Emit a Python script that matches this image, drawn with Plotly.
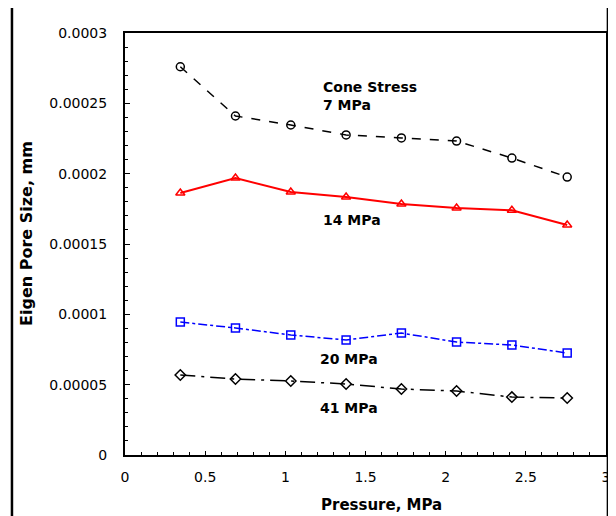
import plotly.graph_objects as go

pressure = [0.345, 0.689, 1.034, 1.379, 1.724, 2.068, 2.413, 2.758]
size_7 = [0.000276, 0.000241, 0.0002346, 0.0002275, 0.0002254, 0.0002232, 0.0002111, 0.0001976]
size_14 = [0.0001863, 0.0001969, 0.000187, 0.0001834, 0.0001784, 0.0001756, 0.000174, 0.0001635]
size_20 = [0.0000945, 0.0000903, 0.0000853, 0.0000818, 0.0000867, 0.0000803, 0.0000782, 0.0000725]
size_41 = [0.0000569, 0.000054, 0.0000526, 0.0000505, 0.0000469, 0.0000455, 0.0000412, 0.0000405]

x_ticks = [0, 0.5, 1, 1.5, 2, 2.5, 3]
x_ticktext = ["0", "0.5", "1", "1.5", "2", "2.5", "3"]
y_ticks = [0, 0.00005, 0.0001, 0.00015, 0.0002, 0.00025, 0.0003]
y_ticktext = ["0", "0.00005", "0.0001", "0.00015", "0.0002", "0.00025", "0.0003"]

FONT = "DejaVu Sans, sans-serif"

fig = go.Figure()

def add(y, color, dash, symbol, width=1.5):
    fig.add_trace(go.Scatter(
        x=pressure, y=y, mode="lines+markers",
        line=dict(color=color, dash=dash, width=width),
        marker=dict(symbol=symbol, size=8, color=color,
                    line=dict(color=color, width=1.5)),
        showlegend=False))

add(size_7, "black", "dash", "circle-open")
add(size_14, "red", "solid", "triangle-up-open", 2)
add(size_20, "blue", "dashdot", "square-open")
add(size_41, "black", "longdashdot", "diamond-open")

ann_font = dict(family=FONT, size=14, color="black")
fig.add_annotation(x=1.224, y=0.0002552, text="<b>Cone Stress<br>7 MPa</b>", showarrow=False,
                   xanchor="left", yanchor="middle", align="left", font=ann_font)
fig.add_annotation(x=1.224, y=0.000167, text="<b>14 MPa</b>", showarrow=False,
                   xanchor="left", yanchor="middle", font=ann_font)
fig.add_annotation(x=1.206, y=0.0000682, text="<b>20 MPa</b>", showarrow=False,
                   xanchor="left", yanchor="middle", font=ann_font)
fig.add_annotation(x=1.206, y=0.0000334, text="<b>41 MPa</b>", showarrow=False,
                   xanchor="left", yanchor="middle", font=ann_font)

# y axis title
fig.add_annotation(xref="paper", yref="paper", x=-0.206, y=0.526,
                   xanchor="center", yanchor="middle",
                   text="<b>Eigen Pore Size, mm</b>", textangle=-90, showarrow=False,
                   font=dict(family=FONT, size=16, color="black"))
# x axis title
fig.add_annotation(xref="paper", yref="paper", x=0.533, y=-0.118,
                   xanchor="center", yanchor="middle",
                   text="<b>Pressure, MPa</b>", showarrow=False,
                   font=dict(family=FONT, size=15, color="black"))

# outer frame
fig.add_shape(type="rect", xref="paper", yref="paper",
              x0=-0.235, x1=1.004, y0=-0.2, y1=1.064,
              line=dict(color="black", width=2.5), layer="below")

fig.update_xaxes(range=[0, 3], tickvals=x_ticks, ticktext=x_ticktext,
                 ticks="inside", ticklen=4, tickcolor="black",
                 minor=dict(ticks="inside", ticklen=3, dtick=0.1, tickcolor="black"),
                 showline=True, linecolor="black", linewidth=2, mirror=True,
                 showgrid=False, zeroline=False,
                 tickfont=dict(family=FONT, size=14, color="black"),
                 ticklabelstandoff=8)
fig.update_yaxes(range=[0, 0.0003], tickvals=y_ticks, ticktext=y_ticktext,
                 ticks="inside", ticklen=5, tickcolor="black",
                 minor=dict(ticks="inside", ticklen=3, dtick=0.00001, tickcolor="black"),
                 showline=True, linecolor="black", linewidth=2, mirror=True,
                 showgrid=False, zeroline=False,
                 tickfont=dict(family=FONT, size=14, color="black"),
                 ticklabelstandoff=13)

# the page adds an 8px body margin, so the figure is sized to fit the window
fig.update_layout(width=608, height=508, plot_bgcolor="white", paper_bgcolor="white",
                  margin=dict(l=117, r=6, t=25, b=61))

fig.write_html("out.html")
